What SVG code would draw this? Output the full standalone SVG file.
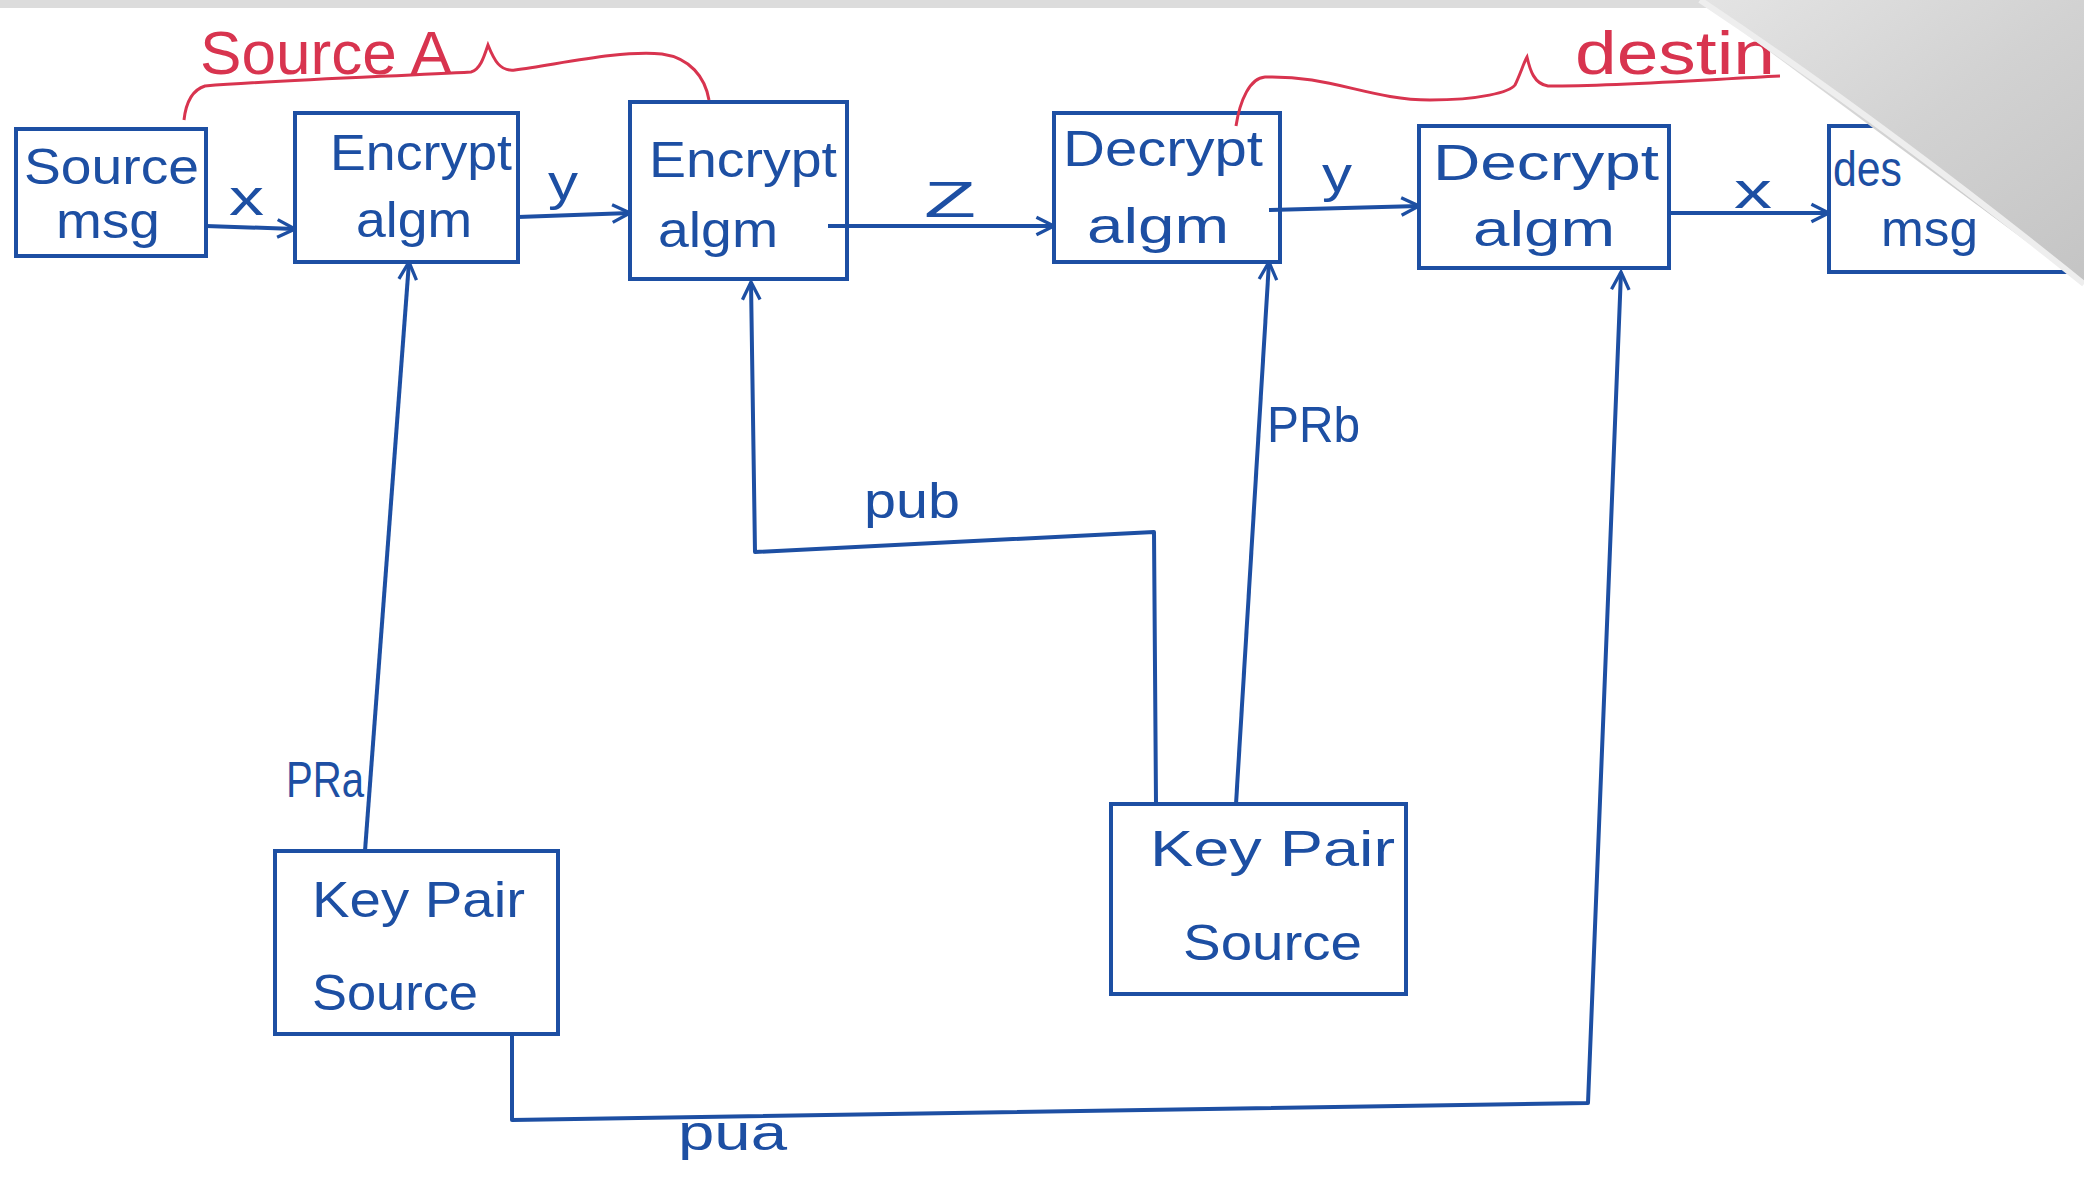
<svg xmlns="http://www.w3.org/2000/svg" width="2084" height="1179" viewBox="0 0 2084 1179">
<style>
.box{fill:none;stroke:#1d4fa3;stroke-width:4}
.edge{fill:none;stroke:#1d4fa3;stroke-width:4;stroke-linejoin:round}
.t{font-family:"Liberation Sans","DejaVu Sans",sans-serif;font-size:50px;fill:#1d4fa3}
.lbl{font-family:"Liberation Sans","DejaVu Sans",sans-serif;font-size:50px;fill:#1d4fa3}
.red{font-family:"Liberation Sans","DejaVu Sans",sans-serif;font-size:62px;fill:#d8344f}
.brace{fill:none;stroke:#d8344f;stroke-width:3}
</style>
<defs>
<marker id="arr" viewBox="0 0 20 20" refX="18" refY="10" markerWidth="22" markerHeight="22" markerUnits="userSpaceOnUse" orient="auto">
<path d="M2,2 L18,10 L2,18" fill="none" stroke="#1d4fa3" stroke-width="3"/>
</marker>
<linearGradient id="fold" x1="0" y1="0" x2="1" y2="1">
<stop offset="0" stop-color="#e4e4e4"/>
<stop offset="0.5" stop-color="#d2d2d2"/>
<stop offset="1" stop-color="#c4c4c4"/>
</linearGradient>
</defs>
<rect x="0" y="0" width="2084" height="1179" fill="#ffffff"/>
<rect x="0" y="0" width="2084" height="8" fill="#dcdcdc"/>

<g id="connectors">
<path class="edge" d="M206,226 L295,229" marker-end="url(#arr)"/>
<path class="edge" d="M518,217 L630,213" marker-end="url(#arr)"/>
<path class="edge" d="M828,226 L1054,226" marker-end="url(#arr)"/>
<path class="edge" d="M1269,210 L1419,206" marker-end="url(#arr)"/>
<path class="edge" d="M1669,213 L1829,213" marker-end="url(#arr)"/>
<path class="edge" d="M365,851 L409,262" marker-end="url(#arr)"/>
<path class="edge" d="M1156,804 L1154,532 L755,552 L751,282" marker-end="url(#arr)"/>
<path class="edge" d="M1236,804 L1269,262" marker-end="url(#arr)"/>
<path class="edge" d="M512,1034 L512,1120 L1588,1103 L1621,272" marker-end="url(#arr)"/>
<text class="lbl" x="229" y="215" textLength="35" lengthAdjust="spacingAndGlyphs">x</text>
<text class="lbl" x="548" y="200" textLength="30" lengthAdjust="spacingAndGlyphs">y</text>
<text class="lbl" x="924" y="217" textLength="52" lengthAdjust="spacingAndGlyphs">Z</text>
<text class="lbl" x="1322" y="192" textLength="30" lengthAdjust="spacingAndGlyphs">y</text>
<text class="lbl" x="1734" y="208" textLength="38" lengthAdjust="spacingAndGlyphs">x</text>
<text class="lbl" x="286" y="797" textLength="78" lengthAdjust="spacingAndGlyphs">PRa</text>
<text class="lbl" x="1267" y="442" textLength="93" lengthAdjust="spacingAndGlyphs">PRb</text>
<text class="lbl" x="864" y="518" textLength="96" lengthAdjust="spacingAndGlyphs">pub</text>
<text class="lbl" x="678" y="1150" textLength="109" lengthAdjust="spacingAndGlyphs">pua</text>
</g>

<g id="source-msg">
<rect class="box" x="16" y="129" width="190" height="127"/>
<text class="t" x="24" y="184" textLength="175" lengthAdjust="spacingAndGlyphs">Source</text>
<text class="t" x="56" y="238" textLength="104" lengthAdjust="spacingAndGlyphs">msg</text>
</g>
<g id="encrypt1">
<rect class="box" x="295" y="113" width="223" height="149"/>
<text class="t" x="330" y="170" textLength="182" lengthAdjust="spacingAndGlyphs">Encrypt</text>
<text class="t" x="356" y="237" textLength="116" lengthAdjust="spacingAndGlyphs">algm</text>
</g>
<g id="encrypt2">
<rect class="box" x="630" y="102" width="217" height="177"/>
<text class="t" x="649" y="177" textLength="188" lengthAdjust="spacingAndGlyphs">Encrypt</text>
<text class="t" x="658" y="247" textLength="120" lengthAdjust="spacingAndGlyphs">algm</text>
</g>
<g id="decrypt1">
<rect class="box" x="1054" y="113" width="226" height="149"/>
<text class="t" x="1063" y="166" textLength="200" lengthAdjust="spacingAndGlyphs">Decrypt</text>
<text class="t" x="1087" y="243" textLength="142" lengthAdjust="spacingAndGlyphs">algm</text>
</g>
<g id="decrypt2">
<rect class="box" x="1419" y="126" width="250" height="142"/>
<text class="t" x="1433" y="180" textLength="226" lengthAdjust="spacingAndGlyphs">Decrypt</text>
<text class="t" x="1473" y="246" textLength="142" lengthAdjust="spacingAndGlyphs">algm</text>
</g>
<g id="dest-msg">
<rect class="box" x="1829" y="126" width="260" height="146"/>
<text class="t" x="1833" y="186" textLength="69" lengthAdjust="spacingAndGlyphs">des</text>
<text class="t" x="1881" y="246" textLength="97" lengthAdjust="spacingAndGlyphs">msg</text>
</g>
<g id="keypair1">
<rect class="box" x="275" y="851" width="283" height="183"/>
<text class="t" x="312" y="917" textLength="213" lengthAdjust="spacingAndGlyphs">Key Pair</text>
<text class="t" x="312" y="1010" textLength="166" lengthAdjust="spacingAndGlyphs">Source</text>
</g>
<g id="keypair2">
<rect class="box" x="1111" y="804" width="295" height="190"/>
<text class="t" x="1150" y="866" textLength="245" lengthAdjust="spacingAndGlyphs">Key Pair</text>
<text class="t" x="1183" y="960" textLength="179" lengthAdjust="spacingAndGlyphs">Source</text>
</g>

<g id="group-labels">
<path class="brace" d="M184,120 C186,102 192,90 205,86 C280,80 400,76 471,72 C480,70 484,57 488,45 C494,60 500,72 515,70 C560,64 620,50 662,54 C690,58 705,77 709,100"/>
<text class="red" x="200" y="74" textLength="252" lengthAdjust="spacingAndGlyphs">Source A</text>
<path class="brace" d="M1236,126 C1240,100 1250,78 1265,77 C1330,75 1370,100 1430,100 C1480,100 1510,92 1515,85 C1520,75 1524,62 1527,57 C1530,70 1534,84 1548,86 C1620,86 1700,80 1780,76"/>
<text class="red" x="1575" y="74" textLength="200" lengthAdjust="spacingAndGlyphs">destin</text>
</g>

<polygon points="1700,0 2084,0 2084,284" fill="url(#fold)"/>
<path d="M1700,0 Q1880,120 2084,284" fill="none" stroke="#eeeeee" stroke-width="6"/>
</svg>
